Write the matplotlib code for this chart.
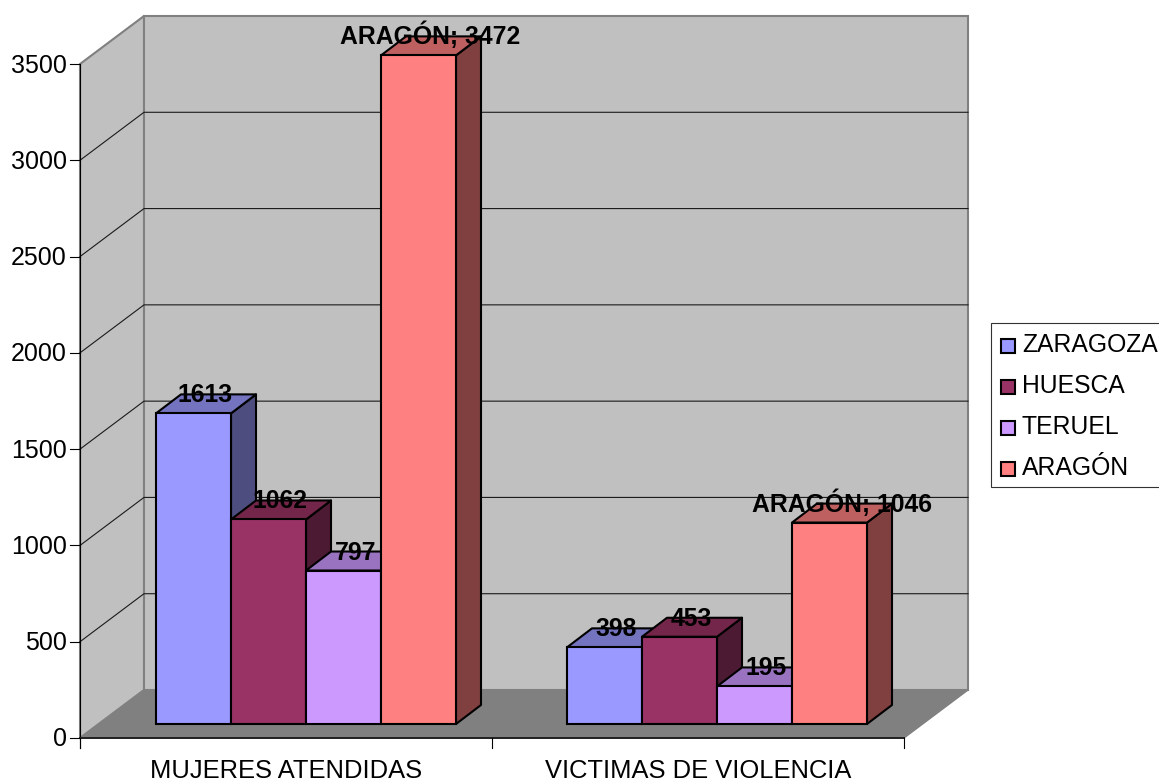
import matplotlib
matplotlib.use('Agg')
import matplotlib.pyplot as plt
from matplotlib.patches import Polygon, Rectangle

plt.rcParams['font.family'] = ['Liberation Sans', 'DejaVu Sans']

categories = ['MUJERES ATENDIDAS', 'VICTIMAS DE VIOLENCIA']
series = ['ZARAGOZA', 'HUESCA', 'TERUEL', 'ARAGÓN']
zaragoza = [1613, 398]
huesca = [1062, 453]
teruel = [797, 195]
aragon = [3472, 1046]
colors = ['#9999FF', '#993366', '#CC99FF', '#FF8080']
side_colors = ['#4D4D80', '#4D1A33', '#664D80', '#804040']
top_colors = ['#7373BF', '#732649', '#9973BF', '#BF6060']
yticks = [0, 500, 1000, 1500, 2000, 2500, 3000, 3500]

# layout in pixels, the y axis itself runs in chart values
W, H = 1159, 781
x0, x1 = 80, 904
y_zero = 738
scale = (738 - 64) / 3500
group_x = [156, 567]
bar_w = 75


def up(px):
    return px / scale


fig = plt.figure(figsize=(W / 100, H / 100), dpi=100)
ax = fig.add_axes([0, 0, 1, 1])
ax.set_xlim(0, W)
ax.set_ylim(up(y_zero - H), up(y_zero))
ax.axis('off')

dx, dy = 64, up(48)
ymax = yticks[-1]
wall = '#C0C0C0'
edge = '#808080'

# walls and floor
ax.add_patch(Polygon([(x0, 0), (x0 + dx, dy), (x0 + dx, ymax + dy), (x0, ymax)],
                     fc=wall, ec=edge, lw=1.5, zorder=1))
ax.add_patch(Polygon([(x0 + dx, dy), (x1 + dx, dy), (x1 + dx, ymax + dy), (x0 + dx, ymax + dy)],
                     fc=wall, ec=edge, lw=1.5, zorder=1))
ax.add_patch(Polygon([(x0, 0), (x1, 0), (x1 + dx, dy), (x0 + dx, dy)],
                     fc='#808080', ec=edge, lw=1, zorder=1))

# grid
for v in yticks[1:-1]:
    ax.plot([x0, x0 + dx, x1 + dx], [v, v + dy, v + dy], color='#1A1A1A', lw=0.8, zorder=2)

# axes lines and ticks
ax.plot([x0, x0], [up(-10), ymax], color='k', lw=0.8, zorder=3)
ax.plot([x0, x1], [0, 0], color='#222222', lw=1.4, zorder=3)
for v in yticks:
    ax.plot([x0 - 10, x0], [v, v], color='k', lw=0.8, zorder=3)
    ax.text(67, v - up(8.5), str(v), ha='right', va='baseline', fontsize=18, color='k', zorder=6)
for x in [x0, (x0 + x1) / 2, x1]:
    ax.plot([x, x], [up(-10), 0], color='k', lw=0.8, zorder=3)
for i, c in enumerate(categories):
    ax.text(x0 + (i + 0.5) * (x1 - x0) / 2, up(-40), c, ha='center', va='baseline',
            fontsize=18.4, color='k', zorder=6)

# bars
base = up(14)
ddx, ddy = 25, up(19)
values = [zaragoza, huesca, teruel, aragon]
z = 4
for g, gx in enumerate(group_x):
    for s, vals in enumerate(values):
        left = gx + s * bar_w
        right = left + bar_w
        top = base + vals[g]
        ax.add_patch(Polygon([(right, base), (right + ddx, base + ddy), (right + ddx, top + ddy), (right, top)],
                             fc=side_colors[s], ec='k', lw=1.5, joinstyle='round', zorder=z))
        ax.add_patch(Polygon([(left, top), (right, top), (right + ddx, top + ddy), (left + ddx, top + ddy)],
                             fc=top_colors[s], ec='k', lw=1.5, joinstyle='round', zorder=z))
        ax.add_patch(Rectangle((left, base), bar_w, vals[g],
                               fc=colors[s], ec='k', lw=1.5, zorder=z + 0.5))
        z += 0.01
        label = str(vals[g]) if series[s] != 'ARAGÓN' else 'ARAGÓN; ' + str(vals[g])
        ax.text(left + bar_w / 2 + 12, top + ddy - up(8), label, ha='center', va='baseline',
                fontsize=17.8, fontweight='bold', color='k', zorder=10)

# legend
ax.add_patch(Rectangle((991, up(y_zero - 487)), 170, up(164), fc='white', ec='#333333', lw=0.8, zorder=3))
for i, name in enumerate(series):
    yc = up(y_zero - (346 + 41 * i))
    ax.add_patch(Rectangle((1001, yc - up(7)), 14, up(14), fc=colors[i], ec='k', lw=1.5, zorder=4))
    ax.text(1022, yc - up(6), name, ha='left', va='baseline', fontsize=17.8, color='k', zorder=5)

fig.savefig('out.png', dpi=100)
